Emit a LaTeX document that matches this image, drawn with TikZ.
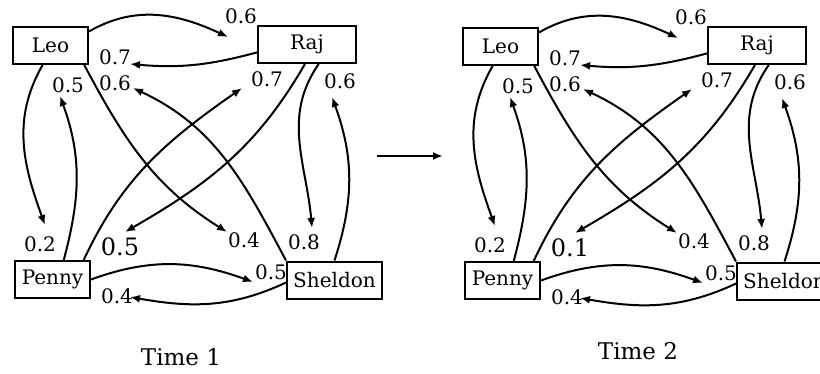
\documentclass[tikz,border=0pt]{standalone}
\usepackage{fontspec}
\setmainfont{DejaVu Serif}
\usetikzlibrary{arrows.meta}

\begin{document}
\begin{tikzpicture}[x=0.5pt,y=-0.5pt,line width=1pt,
  >={Latex[length=5pt,width=4pt]},
  person/.style={draw,minimum height=18.5pt,inner sep=0pt,font=\fontsize{10}{12}\selectfont},
  wt/.style={inner sep=0pt,font=\fontsize{10}{12}\selectfont},
  bigwt/.style={inner sep=0pt,font=\fontsize{12}{14}\selectfont},
  caption/.style={inner sep=0pt,font=\fontsize{11.5}{13}\selectfont}]
\useasboundingbox (0,0) rectangle (820,374);
%put nodes
%Time 1
\node[person,minimum width=37.5pt] (L1) at (50.5,45.5) {Leo};
\node[person,minimum width=49pt] (R1) at (307,44.5) {Raj};
\node[person,minimum width=37.5pt] (P1) at (52.5,279.5) {Penny};
\node[person,minimum width=47.5pt] (S1) at (334.5,280) {Sheldon};
%Time 2
\node[person,minimum width=37.5pt] (L2) at (500.5,46.5) {Leo};
\node[person,minimum width=49pt] (R2) at (757,45.5) {Raj};
\node[person,minimum width=37.5pt] (P2) at (502.5,280.5) {Penny};
\node[person,minimum width=47.5pt] (S2) at (784.5,281) {Sheldon};

%arrow heads
%Time 1
\coordinate (a1) at (228,37);
\coordinate (a2) at (130,64);
\coordinate (a3) at (45,225);
\coordinate (a4) at (60,96);
\coordinate (a5) at (227,232);
\coordinate (a6) at (133,88);
\coordinate (a7) at (242,88);
\coordinate (a8) at (125,232);
\coordinate (a9) at (312,228);
\coordinate (a10) at (332,97);
\coordinate (a11) at (253,282);
\coordinate (a12) at (130,297);
%Time 2
\coordinate (b1) at (678,38);
\coordinate (b2) at (580,65);
\coordinate (b3) at (495,226);
\coordinate (b4) at (510,97);
\coordinate (b5) at (677,233);
\coordinate (b6) at (583,89);
\coordinate (b7) at (692,89);
\coordinate (b8) at (575,233);
\coordinate (b9) at (762,229);
\coordinate (b10) at (782,98);
\coordinate (b11) at (703,283);
\coordinate (b12) at (580,298);

%plot the ties
%Time 1
\draw[->] (L1.20) to[out=30,in=155] (a1);
\draw[->] (R1.189) to[out=195,in=-5] (a2);
\draw[->] (L1.248) to[out=240,in=110] (a3);
\draw[->] (P1.60) to[out=75,in=-70] (a4);
\draw[->] (L1.-30) to[out=-62,in=148] (a5);
\draw[->] (S1.north west) to[out=118,in=-25] (a6);
\draw[->] (P1.32) to[out=65,in=-145] (a7);
\draw[->] (R1.264) to[out=240,in=30] (a8);
\draw[->] (R1.-59) to[out=235,in=95] (a9);
\draw[->] (S1.north) to[out=72,in=-70] (a10);
\draw[->] (P1.east) to[out=20,in=160] (a11);
\draw[->] (S1.183) to[out=205,in=-10] (a12);
%Time 2
\draw[->] (L2.20) to[out=30,in=155] (b1);
\draw[->] (R2.189) to[out=195,in=-5] (b2);
\draw[->] (L2.248) to[out=240,in=110] (b3);
\draw[->] (P2.60) to[out=75,in=-70] (b4);
\draw[->] (L2.-30) to[out=-62,in=148] (b5);
\draw[->] (S2.north west) to[out=118,in=-25] (b6);
\draw[->] (P2.32) to[out=65,in=-145] (b7);
\draw[->] (R2.264) to[out=240,in=30] (b8);
\draw[->] (R2.-59) to[out=235,in=95] (b9);
\draw[->] (S2.north) to[out=72,in=-70] (b10);
\draw[->] (P2.east) to[out=20,in=160] (b11);
\draw[->] (S2.183) to[out=205,in=-10] (b12);

%label
%Time 1
\node[wt] (w1) at (241,16) {0.6};
\node[wt] (w2) at (115,57) {0.7};
\node[wt] (w3) at (68,85) {0.5};
\node[wt] (w4) at (115,83) {0.6};
\node[wt] (w5) at (267,79) {0.7};
\node[wt] (w6) at (340,81) {0.6};
\node[wt] (w7) at (40,244) {0.2};
\node[bigwt] (w8) at (120,247) {0.5};
\node[wt] (w9) at (244,240) {0.4};
\node[wt] (w10) at (304,242) {0.8};
\node[wt] (w11) at (271,272) {0.5};
\node[wt] (w12) at (117,296) {0.4};
%Time 2
\node[wt] (v1) at (691,17) {0.6};
\node[wt] (v2) at (565,58) {0.7};
\node[wt] (v3) at (518,86) {0.5};
\node[wt] (v4) at (565,84) {0.6};
\node[wt] (v5) at (717,80) {0.7};
\node[wt] (v6) at (790,82) {0.6};
\node[wt] (v7) at (490,245) {0.2};
\node[bigwt] (v8) at (570,248) {0.1};
\node[wt] (v9) at (694,241) {0.4};
\node[wt] (v10) at (754,243) {0.8};
\node[wt] (v11) at (721,273) {0.5};
\node[wt] (v12) at (567,297) {0.4};

%caption
\node[caption] (c1) at (181,357) {Time 1};
\node[caption] (c2) at (638,351) {Time 2};
%map
\coordinate (m1) at (377,156);
\coordinate (m2) at (443,156);
\draw[->] (m1) -- (m2);
\end{tikzpicture}
\end{document}
